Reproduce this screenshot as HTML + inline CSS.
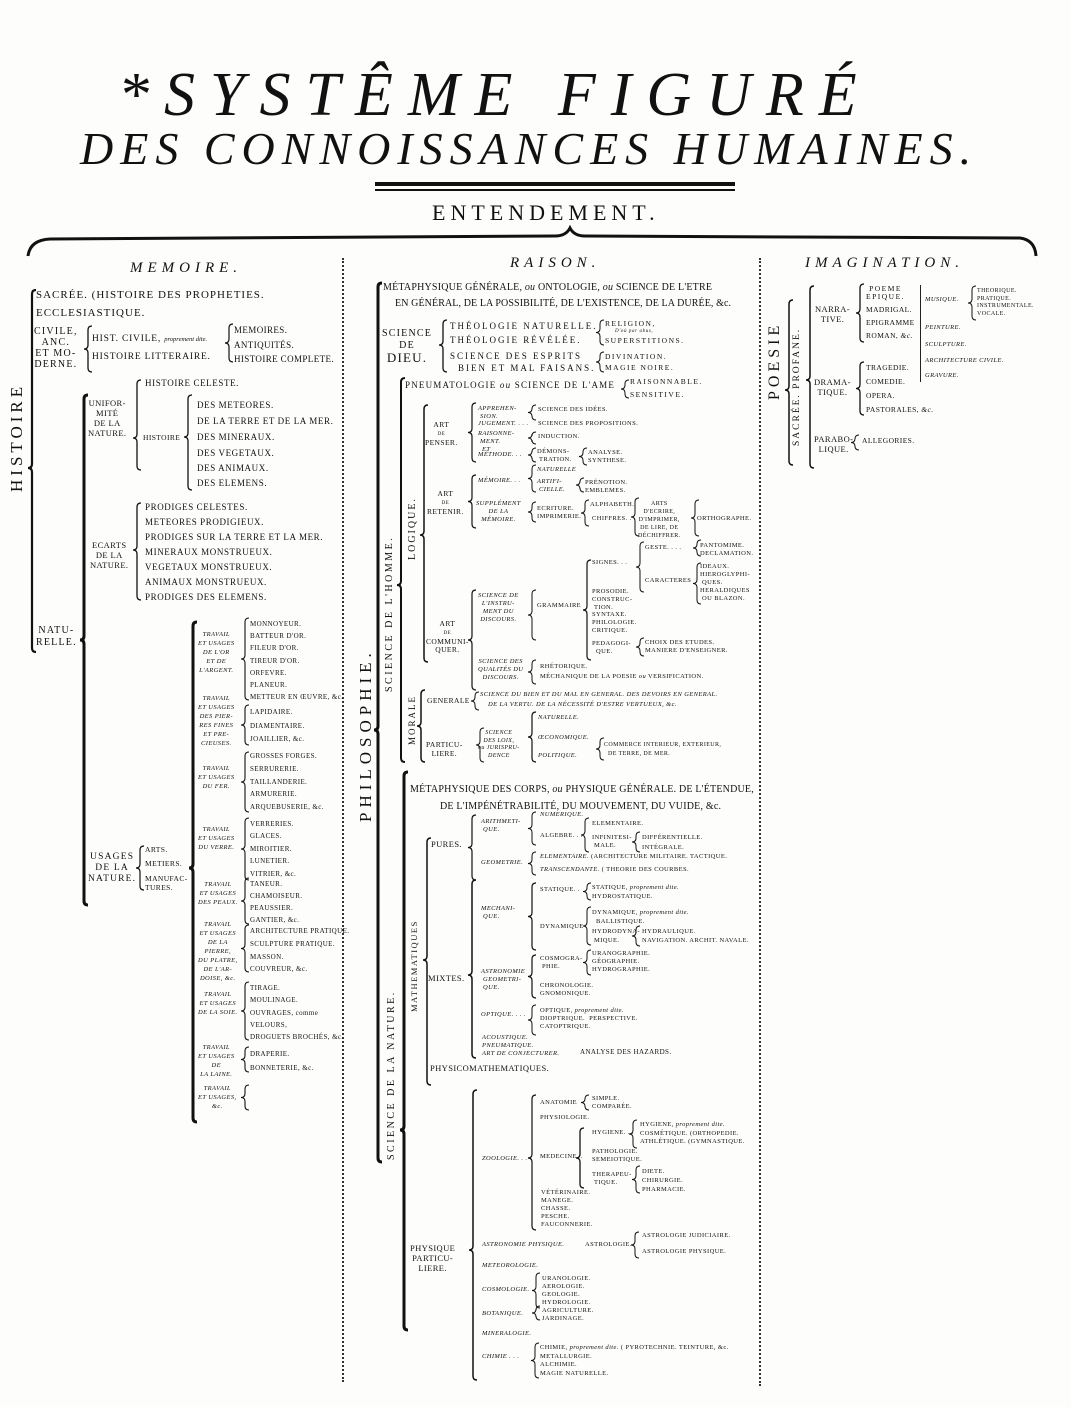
<!DOCTYPE html>
<html><head><meta charset="utf-8">
<style>
html,body{margin:0;padding:0;background:#fff;}
#p{position:relative;width:1071px;height:1407px;overflow:hidden;background:#fdfdfc;font-family:"Liberation Serif",serif;color:#111;}
.t{position:absolute;white-space:nowrap;line-height:1;font-size:9px;letter-spacing:0.6px;}
.s{font-size:10px;letter-spacing:1.2px;}
.m{font-size:11px;letter-spacing:1px;}
.i{font-style:italic;}
.x{font-size:7.5px;letter-spacing:0.4px;}
.c{text-align:center;}
.v{position:absolute;white-space:nowrap;line-height:1;transform-origin:0 0;transform:rotate(-90deg);}
svg{position:absolute;left:0;top:0;}
</style></head><body><div id="p">
<svg id="g" width="1071" height="1407"></svg>

<div class="t i" style="left:118px;top:64px;font-size:62px;letter-spacing:15px;">*SYSTÊME FIGURÉ</div>
<div class="t i" style="left:80px;top:126px;font-size:46px;letter-spacing:7px;">DES CONNOISSANCES HUMAINES.</div>
<div style="position:absolute;left:375px;top:182px;width:360px;height:4px;background:#111"></div>
<div style="position:absolute;left:375px;top:189px;width:360px;height:2px;background:#111"></div>
<div class="t" style="left:432px;top:202px;font-size:22px;letter-spacing:5px;">ENTENDEMENT.</div>

<div class="t i" style="left:130px;top:261px;font-size:15px;letter-spacing:5px;">MEMOIRE.</div>
<div class="t i" style="left:510px;top:256px;font-size:15px;letter-spacing:5px;">RAISON.</div>
<div class="t i" style="left:805px;top:256px;font-size:15px;letter-spacing:5px;">IMAGINATION.</div>

<div style="position:absolute;left:342px;top:258px;width:0;height:1124px;border-left:2px dotted #333"></div>
<div style="position:absolute;left:759px;top:258px;width:0;height:1128px;border-left:2px dotted #333"></div>

<!-- MEMOIRE -->
<div class="v" style="left:8px;top:492px;font-size:17px;letter-spacing:4px;">HISTOIRE</div>
<div class="t m" style="left:36px;top:290px;">SACRÉE. (HISTOIRE DES PROPHETIES.</div>
<div class="t m" style="left:36px;top:308px;">ECCLESIASTIQUE.</div>
<div class="t s c" style="left:34px;top:326px;line-height:11px;">CIVILE,<br>ANC.<br>ET MO-<br>DERNE.</div>
<div class="t s" style="left:92px;top:335px;font-size:9.5px;letter-spacing:0.8px;">HIST. CIVILE, <i style="font-size:6.5px;letter-spacing:0">proprement dite.</i></div>
<div class="t s" style="left:92px;top:353px;font-size:9.5px;letter-spacing:0.8px;">HISTOIRE LITTERAIRE.</div>
<div class="t x" style="left:234px;top:326px;font-size:9px;">MEMOIRES.</div>
<div class="t x" style="left:234px;top:341px;font-size:9px;">ANTIQUITÉS.</div>
<div class="t x" style="left:234px;top:355px;font-size:9px;">HISTOIRE COMPLETE.</div>

<div class="t x c" style="left:88px;top:398px;line-height:10px;font-size:8.5px;">UNIFOR-<br>MITÉ<br>DE LA<br>NATURE.</div>
<div class="t" style="left:145px;top:379px;">HISTOIRE CELESTE.</div>
<div class="t x" style="left:143px;top:434px;">HISTOIRE</div>
<div class="t" style="left:197px;top:401px;">DES METEORES.</div>
<div class="t" style="left:197px;top:417px;">DE LA TERRE ET DE LA MER.</div>
<div class="t" style="left:197px;top:433px;">DES MINERAUX.</div>
<div class="t" style="left:197px;top:449px;">DES VEGETAUX.</div>
<div class="t" style="left:197px;top:464px;">DES ANIMAUX.</div>
<div class="t" style="left:197px;top:479px;">DES ELEMENS.</div>

<div class="t x c" style="left:90px;top:540px;line-height:10px;font-size:8.5px;">ECARTS<br>DE LA<br>NATURE.</div>
<div class="t" style="left:145px;top:503px;">PRODIGES CELESTES.</div>
<div class="t" style="left:145px;top:518px;">METEORES PRODIGIEUX.</div>
<div class="t" style="left:145px;top:533px;">PRODIGES SUR LA TERRE ET LA MER.</div>
<div class="t" style="left:145px;top:548px;">MINERAUX MONSTRUEUX.</div>
<div class="t" style="left:145px;top:563px;">VEGETAUX MONSTRUEUX.</div>
<div class="t" style="left:145px;top:578px;">ANIMAUX MONSTRUEUX.</div>
<div class="t" style="left:145px;top:593px;">PRODIGES DES ELEMENS.</div>

<div class="t s c" style="left:36px;top:625px;line-height:12px;">NATU-<br>RELLE.</div>
<div class="t s c" style="left:88px;top:852px;line-height:11px;font-size:9.5px;">USAGES<br>DE LA<br>NATURE.</div>
<div class="t x" style="left:145px;top:846px;">ARTS.</div>
<div class="t x" style="left:145px;top:860px;">METIERS.</div>
<div class="t x" style="left:145px;top:874px;line-height:9px;">MANUFAC-<br>TURES.</div>

<div class="t x i c" style="left:198px;top:630px;line-height:9px;font-size:6.5px;">TRAVAIL<br>ET USAGES<br>DE L'OR<br>ET DE<br>L'ARGENT.</div>
<div class="t x" style="left:250px;top:618px;line-height:12.2px;font-size:7px;">MONNOYEUR.<br>BATTEUR D'OR.<br>FILEUR D'OR.<br>TIREUR D'OR.<br>ORFEVRE.<br>PLANEUR.<br>METTEUR EN ŒUVRE, &amp;c.</div>
<div class="t x i c" style="left:198px;top:694px;line-height:9px;font-size:6.5px;">TRAVAIL<br>ET USAGES<br>DES PIER-<br>RES FINES<br>ET PRE-<br>CIEUSES.</div>
<div class="t x" style="left:250px;top:706px;line-height:13.5px;font-size:7px;">LAPIDAIRE.<br>DIAMENTAIRE.<br>JOAILLIER, &amp;c.</div>
<div class="t x i c" style="left:198px;top:764px;line-height:9px;font-size:6.5px;">TRAVAIL<br>ET USAGES<br>DU FER.</div>
<div class="t x" style="left:250px;top:750px;line-height:12.8px;font-size:7px;">GROSSES FORGES.<br>SERRURERIE.<br>TAILLANDERIE.<br>ARMURERIE.<br>ARQUEBUSERIE, &amp;c.</div>
<div class="t x i c" style="left:198px;top:825px;line-height:9px;font-size:6.5px;">TRAVAIL<br>ET USAGES<br>DU VERRE.</div>
<div class="t x" style="left:250px;top:818px;line-height:12.4px;font-size:7px;">VERRERIES.<br>GLACES.<br>MIROITIER.<br>LUNETIER.<br>VITRIER, &amp;c.</div>
<div class="t x i c" style="left:198px;top:880px;line-height:9px;font-size:6.5px;">TRAVAIL<br>ET USAGES<br>DES PEAUX.</div>
<div class="t x" style="left:250px;top:878px;line-height:12px;font-size:7px;">TANEUR.<br>CHAMOISEUR.<br>PEAUSSIER.<br>GANTIER, &amp;c.</div>
<div class="t x i c" style="left:198px;top:920px;line-height:9px;font-size:6.5px;">TRAVAIL<br>ET USAGES<br>DE LA<br>PIERRE,<br>DU PLATRE,<br>DE L'AR-<br>DOISE, &amp;c.</div>
<div class="t x" style="left:250px;top:925px;line-height:12.8px;font-size:7px;">ARCHITECTURE PRATIQUE.<br>SCULPTURE PRATIQUE.<br>MASSON.<br>COUVREUR, &amp;c.</div>
<div class="t x i c" style="left:198px;top:990px;line-height:9px;font-size:6.5px;">TRAVAIL<br>ET USAGES<br>DE LA SOIE.</div>
<div class="t x" style="left:250px;top:982px;line-height:12.3px;font-size:7px;">TIRAGE.<br>MOULINAGE.<br>OUVRAGES, comme<br>VELOURS,<br>DROGUETS BROCHÉS, &amp;c.</div>
<div class="t x i c" style="left:198px;top:1043px;line-height:9px;font-size:6.5px;">TRAVAIL<br>ET USAGES<br>DE<br>LA LAINE.</div>
<div class="t x" style="left:250px;top:1047px;line-height:14px;font-size:7px;">DRAPERIE.<br>BONNETERIE, &amp;c.</div>
<div class="t x i c" style="left:198px;top:1084px;line-height:9px;font-size:6.5px;">TRAVAIL<br>ET USAGES,<br>&amp;c.</div>

<!-- RAISON -->
<div class="v" style="left:357px;top:822px;font-size:17px;letter-spacing:5px;">PHILOSOPHIE.</div>
<div class="t m" style="left:383px;top:283px;font-size:10px;letter-spacing:0.2px;">MÉTAPHYSIQUE GÉNÉRALE, <i>ou</i> ONTOLOGIE, <i>ou</i> SCIENCE DE L'ETRE</div>
<div class="t m" style="left:395px;top:299px;font-size:10px;letter-spacing:0.1px;">EN GÉNÉRAL, DE LA POSSIBILITÉ, DE L'EXISTENCE, DE LA DURÉE, &amp;c.</div>
<div class="t s c" style="left:382px;top:328px;line-height:12px;">SCIENCE<br>DE<br><span style="font-size:13px">DIEU.</span></div>
<div class="t" style="left:450px;top:322px;letter-spacing:2px;">THÉOLOGIE NATURELLE.</div>
<div class="t" style="left:450px;top:336px;letter-spacing:2px;">THÉOLOGIE RÉVÉLÉE.</div>
<div class="t" style="left:450px;top:352px;letter-spacing:2px;">SCIENCE DES ESPRITS</div>
<div class="t" style="left:458px;top:364px;letter-spacing:2px;">BIEN ET MAL FAISANS.</div>
<div class="t x" style="left:605px;top:320px;letter-spacing:1.5px;">RELIGION,</div>
<div class="t i" style="left:615px;top:329px;font-size:5px;">D'où par abus,</div>
<div class="t x" style="left:605px;top:337px;letter-spacing:1.5px;">SUPERSTITIONS.</div>
<div class="t x" style="left:605px;top:353px;letter-spacing:1.5px;">DIVINATION.</div>
<div class="t x" style="left:605px;top:364px;letter-spacing:1.5px;">MAGIE NOIRE.</div>

<div class="v" style="left:385px;top:692px;font-size:10px;letter-spacing:2.5px;">SCIENCE DE L'HOMME.</div>
<div class="t" style="left:405px;top:381px;letter-spacing:1.2px;">PNEUMATOLOGIE <i>ou</i> SCIENCE DE L'AME</div>
<div class="t x" style="left:630px;top:378px;letter-spacing:1.5px;">RAISONNABLE.</div>
<div class="t x" style="left:630px;top:391px;letter-spacing:1.5px;">SENSITIVE.</div>
<div class="v" style="left:408px;top:560px;font-size:10px;letter-spacing:2px;">LOGIQUE.</div>

<div class="t x c" style="left:425px;top:421px;line-height:8px;">ART<br><span style="font-size:5px">DE</span><br>PENSER.</div>
<div class="t x i" style="left:478px;top:405px;line-height:8px;font-size:6.5px;">APPREHEN-<br>&nbsp;SION.</div>
<div class="t x i" style="left:478px;top:421px;font-size:6.5px;">JUGEMENT. . . .</div>
<div class="t x i" style="left:478px;top:430px;line-height:8px;font-size:6.5px;">RAISONNE-<br>&nbsp;MENT.<br>&nbsp;&nbsp;ET</div>
<div class="t x i" style="left:478px;top:452px;font-size:6.5px;">MÉTHODE. . .</div>
<div class="t x" style="left:538px;top:407px;font-size:6.5px;">SCIENCE DES IDÉES.</div>
<div class="t x" style="left:538px;top:421px;font-size:6.5px;">SCIENCE DES PROPOSITIONS.</div>
<div class="t x" style="left:538px;top:434px;font-size:6.5px;">INDUCTION.</div>
<div class="t x" style="left:537px;top:448px;line-height:8px;font-size:6.5px;">DÉMONS-<br>&nbsp;TRATION.</div>
<div class="t x" style="left:588px;top:449px;line-height:8px;font-size:6.5px;">ANALYSE.<br>SYNTHESE.</div>

<div class="t x c" style="left:427px;top:490px;line-height:8px;">ART<br><span style="font-size:5px">DE</span><br>RETENIR.</div>
<div class="t x i" style="left:478px;top:478px;font-size:6.5px;">MÉMOIRE. . .</div>
<div class="t x i c" style="left:476px;top:500px;line-height:8px;font-size:6.5px;">SUPPLÉMENT<br>DE LA<br>MÉMOIRE.</div>
<div class="t x i" style="left:537px;top:467px;font-size:6.5px;">NATURELLE</div>
<div class="t x i" style="left:537px;top:478px;line-height:8px;font-size:6.5px;">ARTIFI-<br>&nbsp;CIELLE.</div>
<div class="t x" style="left:585px;top:479px;line-height:8px;font-size:6.5px;">PRÉNOTION.<br>EMBLEMES.</div>
<div class="t x" style="left:537px;top:505px;line-height:8px;font-size:6.5px;">ECRITURE.<br>IMPRIMERIE.</div>
<div class="t x" style="left:590px;top:502px;font-size:6.5px;">ALPHABETH.</div>
<div class="t x" style="left:592px;top:516px;font-size:6.5px;">CHIFFRES. . .</div>
<div class="t x c" style="left:638px;top:500px;line-height:8px;font-size:6px;">ARTS<br>D'ECRIRE,<br>D'IMPRIMER,<br>DE LIRE, DE<br>DÉCHIFFRER.</div>
<div class="t x" style="left:697px;top:516px;font-size:6.5px;">ORTHOGRAPHE.</div>

<div class="t x" style="left:645px;top:545px;font-size:6.5px;">GESTE. . . .</div>
<div class="t x" style="left:700px;top:542px;line-height:8px;font-size:6.5px;">PANTOMIME.<br>DECLAMATION.</div>
<div class="t x" style="left:592px;top:560px;font-size:6.5px;">SIGNES. . .</div>
<div class="t x" style="left:645px;top:578px;font-size:6.5px;">CARACTERES</div>
<div class="t x" style="left:700px;top:563px;line-height:8px;font-size:6.5px;">IDEAUX.<br>HIEROGLYPHI-<br>&nbsp;QUES.<br>HERALDIQUES<br>&nbsp;OU BLAZON.</div>
<div class="t x i c" style="left:478px;top:592px;line-height:8px;font-size:6.5px;">SCIENCE DE<br>L'INSTRU-<br>MENT DU<br>DISCOURS.</div>
<div class="t x" style="left:537px;top:603px;font-size:6.5px;">GRAMMAIRE</div>
<div class="t x" style="left:592px;top:588px;line-height:7.8px;font-size:6.5px;">PROSODIE.<br>CONSTRUC-<br>&nbsp;TION.<br>SYNTAXE.<br>PHILOLOGIE.<br>CRITIQUE.</div>
<div class="t x" style="left:592px;top:640px;line-height:8px;font-size:6.5px;">PEDAGOGI-<br>&nbsp;&nbsp;QUE.</div>
<div class="t x" style="left:645px;top:639px;line-height:8px;font-size:6.5px;">CHOIX DES ETUDES.<br>MANIERE D'ENSEIGNER.</div>
<div class="t x c" style="left:426px;top:620px;line-height:8px;">ART<br><span style="font-size:5px">DE</span><br>COMMUNI-<br>QUER.</div>
<div class="t x i c" style="left:478px;top:658px;line-height:8px;font-size:6.5px;">SCIENCE DES<br>QUALITÉS DU<br>DISCOURS.</div>
<div class="t x" style="left:540px;top:664px;font-size:6.5px;">RHÉTORIQUE.</div>
<div class="t x" style="left:540px;top:674px;font-size:6.5px;">MÉCHANIQUE DE LA POESIE <i>ou</i> VERSIFICATION.</div>

<div class="v" style="left:408px;top:745px;font-size:9px;letter-spacing:2px;">MORALE</div>
<div class="t x" style="left:427px;top:697px;">GENERALE</div>
<div class="t x i" style="left:480px;top:692px;font-size:6.5px;">SCIENCE DU BIEN ET DU MAL EN GENERAL. DES DEVOIRS EN GENERAL.</div>
<div class="t x i" style="left:488px;top:702px;font-size:6.5px;">DE LA VERTU. DE LA NÉCESSITÉ D'ESTRE VERTUEUX, &amp;c.</div>
<div class="t x c" style="left:426px;top:740px;line-height:9px;">PARTICU-<br>LIERE.</div>
<div class="t x i c" style="left:478px;top:730px;line-height:7.5px;font-size:6px;">SCIENCE<br>DES LOIX,<br>ou JURISPRU-<br>DENCE</div>
<div class="t x i" style="left:538px;top:715px;font-size:6.5px;">NATURELLE.</div>
<div class="t x i" style="left:538px;top:735px;font-size:6.5px;">ŒCONOMIQUE.</div>
<div class="t x i" style="left:538px;top:753px;font-size:6.5px;">POLITIQUE.</div>
<div class="t x" style="left:604px;top:742px;font-size:6px;">COMMERCE INTERIEUR, EXTERIEUR,</div>
<div class="t x" style="left:608px;top:751px;font-size:6px;">DE TERRE, DE MER.</div>

<div class="v" style="left:387px;top:1160px;font-size:10px;letter-spacing:2.5px;">SCIENCE DE LA NATURE.</div>
<div class="t m" style="left:410px;top:785px;font-size:10px;letter-spacing:0.2px;">MÉTAPHYSIQUE DES CORPS, <i>ou</i> PHYSIQUE GÉNÉRALE. DE L'ÉTENDUE,</div>
<div class="t m" style="left:440px;top:802px;font-size:10px;letter-spacing:0.2px;">DE L'IMPÉNÉTRABILITÉ, DU MOUVEMENT, DU VUIDE, &amp;c.</div>
<div class="v" style="left:410px;top:1012px;font-size:8.5px;letter-spacing:1.5px;">MATHEMATIQUES</div>
<div class="t x" style="left:431px;top:840px;font-size:8.5px;">PURES.</div>
<div class="t x i" style="left:481px;top:818px;line-height:8px;font-size:6.5px;">ARITHMETI-<br>&nbsp;QUE.</div>
<div class="t x i" style="left:540px;top:812px;font-size:6.5px;">NUMERIQUE.</div>
<div class="t x" style="left:540px;top:833px;font-size:6.5px;">ALGEBRE. . .</div>
<div class="t x" style="left:592px;top:821px;font-size:6.5px;">ELEMENTAIRE.</div>
<div class="t x" style="left:592px;top:834px;line-height:8px;font-size:6.5px;">INFINITESI-<br>&nbsp;MALE.</div>
<div class="t x" style="left:642px;top:833px;line-height:10px;font-size:6.5px;">DIFFÉRENTIELLE.<br>INTÉGRALE.</div>
<div class="t x i" style="left:481px;top:860px;font-size:6.5px;">GEOMETRIE.</div>
<div class="t x i" style="left:540px;top:854px;font-size:6.5px;">ELEMENTAIRE. <span style="font-style:normal">(ARCHITECTURE MILITAIRE. TACTIQUE.</span></div>
<div class="t x i" style="left:540px;top:867px;font-size:6.5px;">TRANSCENDANTE. <span style="font-style:normal">( THEORIE DES COURBES.</span></div>

<div class="t x" style="left:428px;top:974px;font-size:8.5px;">MIXTES.</div>
<div class="t x i" style="left:481px;top:905px;line-height:8px;font-size:6.5px;">MECHANI-<br>&nbsp;QUE.</div>
<div class="t x" style="left:540px;top:887px;font-size:6.5px;">STATIQUE. .</div>
<div class="t x" style="left:592px;top:883px;line-height:9px;font-size:6.5px;">STATIQUE, <i>proprement dite.</i><br>HYDROSTATIQUE.</div>
<div class="t x" style="left:540px;top:924px;font-size:6.5px;">DYNAMIQUE</div>
<div class="t x" style="left:592px;top:909px;line-height:8.5px;font-size:6.5px;">DYNAMIQUE, <i>proprement dite.</i><br>&nbsp;&nbsp;BALLISTIQUE.</div>
<div class="t x" style="left:592px;top:928px;line-height:8.5px;font-size:6.5px;">HYDRODYNA-<br>&nbsp;MIQUE.</div>
<div class="t x" style="left:642px;top:928px;line-height:8.5px;font-size:6.5px;">HYDRAULIQUE.<br>NAVIGATION. ARCHIT. NAVALE.</div>
<div class="t x i" style="left:481px;top:968px;line-height:8px;font-size:6.5px;">ASTRONOMIE<br>&nbsp;GEOMETRI-<br>&nbsp;QUE.</div>
<div class="t x" style="left:540px;top:955px;line-height:8px;font-size:6.5px;">COSMOGRA-<br>&nbsp;PHIE.</div>
<div class="t x" style="left:592px;top:950px;line-height:8px;font-size:6.5px;">URANOGRAPHIE.<br>GÉOGRAPHIE.<br>HYDROGRAPHIE.</div>
<div class="t x" style="left:540px;top:982px;line-height:8px;font-size:6.5px;">CHRONOLOGIE.<br>GNOMONIQUE.</div>
<div class="t x i" style="left:481px;top:1012px;font-size:6.5px;">OPTIQUE. . . .</div>
<div class="t x" style="left:540px;top:1007px;line-height:8px;font-size:6.5px;">OPTIQUE, <i>proprement dite.</i><br>DIOPTRIQUE. &nbsp;PERSPECTIVE.<br>CATOPTRIQUE.</div>
<div class="t x i" style="left:482px;top:1034px;line-height:8px;font-size:6.5px;">ACOUSTIQUE.<br>PNEUMATIQUE.<br>ART DE CONJECTURER.</div>
<div class="t x" style="left:580px;top:1049px;font-size:7px;">ANALYSE DES HAZARDS.</div>
<div class="t x" style="left:430px;top:1064px;font-size:8.5px;">PHYSICOMATHEMATIQUES.</div>

<div class="t x c" style="left:410px;top:1243px;line-height:10px;font-size:8.5px;">PHYSIQUE<br>PARTICU-<br>LIERE.</div>
<div class="t x i" style="left:482px;top:1156px;font-size:6.5px;">ZOOLOGIE. . .</div>
<div class="t x" style="left:540px;top:1099px;line-height:8px;font-size:6.5px;">ANATOMIE</div>
<div class="t x" style="left:592px;top:1095px;line-height:8px;font-size:6.5px;">SIMPLE.<br>COMPARÉE.</div>
<div class="t x" style="left:540px;top:1115px;font-size:6.5px;">PHYSIOLOGIE.</div>
<div class="t x" style="left:540px;top:1154px;font-size:6.5px;">MEDECINE. .</div>
<div class="t x" style="left:592px;top:1130px;font-size:6.5px;">HYGIENE. . .</div>
<div class="t x" style="left:640px;top:1121px;line-height:8.5px;font-size:6.5px;">HYGIENE, <i>proprement dite.</i><br>COSMÉTIQUE. (ORTHOPEDIE.<br>ATHLÉTIQUE. (GYMNASTIQUE.</div>
<div class="t x" style="left:592px;top:1148px;line-height:8px;font-size:6.5px;">PATHOLOGIE.<br>SEMEIOTIQUE.</div>
<div class="t x" style="left:592px;top:1171px;line-height:8px;font-size:6.5px;">THERAPEU-<br>&nbsp;TIQUE.</div>
<div class="t x" style="left:642px;top:1167px;line-height:9px;font-size:6.5px;">DIETE.<br>CHIRURGIE.<br>PHARMACIE.</div>
<div class="t x" style="left:541px;top:1189px;line-height:8px;font-size:6.5px;">VÉTÉRINAIRE.<br>MANEGE.<br>CHASSE.<br>PESCHE.<br>FAUCONNERIE.</div>
<div class="t x i" style="left:482px;top:1242px;font-size:6.5px;">ASTRONOMIE PHYSIQUE.</div>
<div class="t x" style="left:585px;top:1242px;font-size:6.5px;">ASTROLOGIE.</div>
<div class="t x" style="left:642px;top:1233px;font-size:6.5px;">ASTROLOGIE JUDICIAIRE.</div>
<div class="t x" style="left:642px;top:1249px;font-size:6.5px;">ASTROLOGIE PHYSIQUE.</div>
<div class="t x i" style="left:482px;top:1263px;font-size:6.5px;">METEOROLOGIE.</div>
<div class="t x i" style="left:482px;top:1287px;font-size:6.5px;">COSMOLOGIE.</div>
<div class="t x" style="left:542px;top:1275px;line-height:8px;font-size:6.5px;">URANOLOGIE.<br>AEROLOGIE.<br>GEOLOGIE.<br>HYDROLOGIE.</div>
<div class="t x i" style="left:482px;top:1311px;font-size:6.5px;">BOTANIQUE.</div>
<div class="t x" style="left:542px;top:1307px;line-height:8px;font-size:6.5px;">AGRICULTURE.<br>JARDINAGE.</div>
<div class="t x i" style="left:482px;top:1331px;font-size:6.5px;">MINERALOGIE.</div>
<div class="t x i" style="left:482px;top:1354px;font-size:6.5px;">CHIMIE . . .</div>
<div class="t x" style="left:540px;top:1344px;line-height:8.5px;font-size:6.5px;">CHIMIE, <i>proprement dite.</i> ( PYROTECHNIE. TEINTURE, &amp;c.<br>METALLURGIE.<br>ALCHIMIE.<br>MAGIE NATURELLE.</div>

<!-- IMAGINATION -->
<div class="v" style="left:767px;top:400px;font-size:16px;letter-spacing:4px;">POESIE</div>
<div class="v" style="left:793px;top:446px;font-size:9.5px;letter-spacing:2px;">SACRÉE. PROFANE.</div>
<div class="t x c" style="left:815px;top:304px;line-height:10px;font-size:8.5px;">NARRA-<br>TIVE.</div>
<div class="t x c" style="left:866px;top:285px;line-height:8px;letter-spacing:1.5px;">POEME<br>EPIQUE.</div>
<div class="t x" style="left:866px;top:306px;">MADRIGAL.</div>
<div class="t x" style="left:866px;top:319px;">EPIGRAMME</div>
<div class="t x" style="left:866px;top:332px;">ROMAN, <i>&amp;c.</i></div>
<div style="position:absolute;left:920px;top:285px;width:1px;height:97px;background:#222"></div>
<div class="t x i" style="left:925px;top:297px;font-size:6.5px;">MUSIQUE.</div>
<div class="t x" style="left:977px;top:288px;line-height:7.7px;font-size:6px;">THEORIQUE.<br>PRATIQUE.<br>INSTRUMENTALE.<br>VOCALE.</div>
<div class="t x i" style="left:925px;top:325px;font-size:6.5px;">PEINTURE.</div>
<div class="t x i" style="left:925px;top:342px;font-size:6.5px;">SCULPTURE.</div>
<div class="t x i" style="left:925px;top:358px;font-size:6.5px;">ARCHITECTURE CIVILE.</div>
<div class="t x i" style="left:925px;top:373px;font-size:6.5px;">GRAVURE.</div>
<div class="t x c" style="left:814px;top:377px;line-height:10px;font-size:8.5px;">DRAMA-<br>TIQUE.</div>
<div class="t x" style="left:866px;top:364px;">TRAGEDIE.</div>
<div class="t x" style="left:866px;top:378px;">COMEDIE.</div>
<div class="t x" style="left:866px;top:392px;">OPERA.</div>
<div class="t x" style="left:866px;top:406px;">PASTORALES, <i>&amp;c.</i></div>
<div class="t x c" style="left:814px;top:434px;line-height:10px;font-size:8.5px;">PARABO-<br>LIQUE.</div>
<div class="t x" style="left:862px;top:437px;">ALLEGORIES.</div>

<script>
var g=document.getElementById('g'),s='';
function L(x,y1,y2,w,ym){ym=ym||(y1+y2)/2;w=w||1.3;var d=4;
s+='<path d="M'+(x+d)+' '+y1+' Q'+x+' '+y1+' '+x+' '+(y1+d)+' L'+x+' '+(ym-d)+' Q'+x+' '+ym+' '+(x-d)+' '+ym+' Q'+x+' '+ym+' '+x+' '+(ym+d)+' L'+x+' '+(y2-d)+' Q'+x+' '+y2+' '+(x+d)+' '+y2+'" fill="none" stroke="#111" stroke-width="'+w+'"/>';}
s+='<path d="M28 256 Q30 240 50 239 L555 236 Q566 236 570 228 Q574 236 585 236 L1020 238 Q1035 240 1036 256" fill="none" stroke="#111" stroke-width="3"/>';
L(32,290,652,2.2,468);L(88,326,372,1.3);L(229,324,362,1.2);
L(84,395,905,3,640);L(137,380,470,1.3,438);L(188,395,490,1.3,437);
L(137,503,600,1.3,550);L(140,846,890,1.2);L(193,622,1122,3,868);
L(245,618,700,1.1);L(245,705,745,1.1);L(245,752,812,1.1);L(245,818,880,1.1);L(245,878,924,1.1);L(245,925,972,1.1);L(245,982,1040,1.1);L(245,1047,1072,1.1);L(245,1085,1110,1.1);
L(378,283,1162,3,730);L(443,320,372,1.3,345);L(600,320,345,1);L(600,352,372,1);
L(401,378,762,2,585);L(625,380,398,1);L(424,405,662,1.5,535);
L(472,403,462,1.2);L(532,405,420,1);L(532,432,444,1);L(532,448,462,1);L(583,448,465,1);
L(472,475,528,1.2);L(532,465,492,1);L(580,478,492,1);L(532,502,522,1);L(585,500,526,1);L(635,498,536,1);L(695,500,536,1);
L(472,590,690,1.2,640);L(532,590,640,1);L(587,560,660,1.2);L(640,542,592,1);L(697,540,556,1);L(697,563,604,1);L(640,638,656,1);L(532,660,684,1);
L(421,690,762,1.5);L(475,692,710,1);L(480,728,762,1);L(532,712,762,1.2);L(600,738,760,1);
L(404,772,1330,3,1130);L(427,838,1085,1.5,960);L(472,815,880,1.2);L(532,812,845,1);L(585,818,852,1);L(636,832,852,1);L(532,852,875,1);
L(472,880,1058,1.5,975);L(532,883,950,1.2);L(587,883,900,1);L(587,907,945,1);L(636,926,946,1);L(532,955,998,1.2);L(587,950,975,1);L(532,1005,1035,1);
L(473,1090,1380,1.5,1250);L(532,1095,1230,1.2,1158);L(585,1095,1110,1);L(580,1128,1188,1.3);L(633,1120,1148,1);L(636,1166,1193,1);L(635,1232,1258,1);L(536,1273,1308,1);L(536,1306,1320,1);L(535,1343,1378,1);
L(789,300,465,1.5,390);L(810,286,468,1.5,380);L(860,284,342,1.3);L(860,362,415,1.3);L(855,435,450,1);L(972,286,320,1);
g.innerHTML=s;
</script>
</div></body></html>
